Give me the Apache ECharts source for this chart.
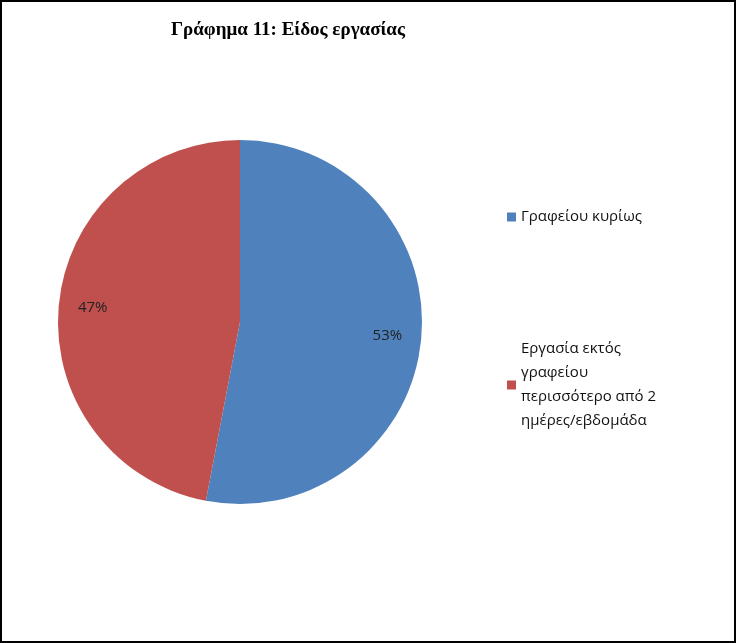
<!DOCTYPE html>
<html><head><meta charset="utf-8">
<script src="https://cdn.jsdelivr.net/npm/echarts@6/dist/echarts.min.js"></script>
<style>html,body{margin:0;padding:0;background:#fff}#c{width:736px;height:643px;box-sizing:border-box;border:2px solid #000}</style>
</head><body><div id="c"></div>
<script>
const categories = ['Γραφείου κυρίως', 'Εργασία εκτός γραφείου περισσότερο από 2 ημέρες/εβδομάδα'];
const legendLabels = ['Γραφείου κυρίως', 'Εργασία εκτός\nγραφείου\nπερισσότερο από 2\nημέρες/εβδομάδα'];
const values = [53, 47];
const colors = ['#4F81BD', '#C0504D'];
const chart = echarts.init(document.getElementById('c'));
const data = categories.map((n, i) => ({name: n, value: values[i], itemStyle: {color: colors[i]}}));
chart.setOption({
  animation: false,
  title: {text: 'Γράφημα 11: Είδος εργασίας', left: 164, top: 14,
    textStyle: {fontFamily: 'Liberation Serif', fontWeight: 'bold', fontSize: 19, color: '#000'}},
  legend: {orient: 'vertical', left: 500, top: 198, itemWidth: 9, itemHeight: 9, itemGap: 108,
    icon: 'rect', data: categories,
    formatter: n => legendLabels[categories.indexOf(n)],
    textStyle: {fontFamily: 'Open Sans', fontSize: 15, color: '#111', lineHeight: 24}},
  series: [
    {type: 'pie', radius: [0, 182], center: [238, 320], startAngle: 90, clockwise: true,
     data: data, label: {show: false}, labelLine: {show: false}, silent: true,
     itemStyle: {borderColor: '#fff', borderWidth: 0}},
    {type: 'pie', radius: [0, 290], center: [238, 320], startAngle: 90, clockwise: true, silent: true,
     data: categories.map((n, i) => ({name: n + ' ', value: values[i]})),
     itemStyle: {color: 'rgba(0,0,0,0)'}, legendHoverLink: false,
     label: {show: true, position: 'inside', formatter: '{c}%', color: '#222',
       fontFamily: 'Open Sans', fontSize: 15}, labelLine: {show: false}}
  ]
});
</script></body></html>
